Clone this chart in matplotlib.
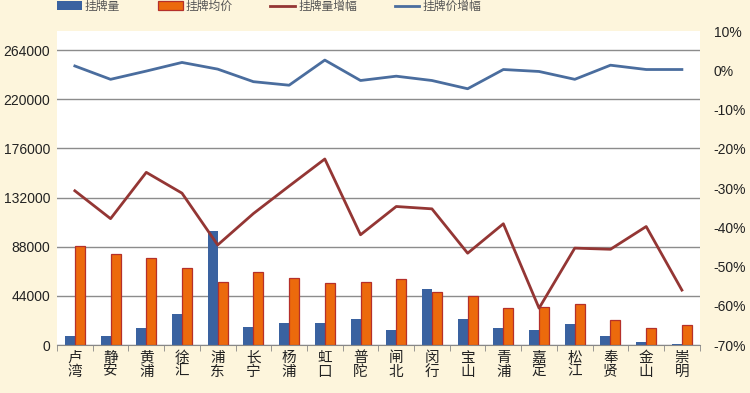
import numpy as np
import matplotlib
matplotlib.use('Agg')
import matplotlib.pyplot as plt
from matplotlib.ticker import FuncFormatter

plt.rcParams['font.family'] = ['Liberation Sans', 'Noto Sans CJK SC', 'DejaVu Sans']

districts = ['卢湾', '静安', '黄浦', '徐汇', '浦东', '长宁', '杨浦', '虹口', '普陀',
             '闸北', '闵行', '宝山', '青浦', '嘉定', '松江', '奉贤', '金山', '崇明']
listings = [7800, 7800, 14900, 27700, 102300, 16100, 19700, 19700, 23300,
            13700, 50400, 23300, 14900, 13400, 18500, 7800, 3000, 1200]
avg_price = [88900, 81700, 78100, 68600, 56700, 65000, 60300, 55500, 56700,
             59100, 47400, 43500, 33100, 34000, 36700, 22700, 15500, 17900]
listings_chg = [-30.7, -37.8, -26.0, -31.3, -44.5, -36.5, -29.5, -22.6, -41.9,
                -34.7, -35.3, -46.6, -39.1, -60.6, -45.3, -45.6, -39.8, -56.0]
price_chg = [1.1, -2.3, -0.2, 2.0, 0.3, -2.9, -3.8, 2.6, -2.6,
             -1.5, -2.6, -4.7, 0.2, -0.3, -2.3, 1.3, 0.2, 0.2]

bg = '#FDF5DC'
blue = '#3A62A0'
orange = '#EC6A0C'
orange_edge = '#B5302A'
red_line = '#943634'
blue_line = '#4A6D9E'

fig = plt.figure(figsize=(7.5, 3.93), dpi=100, facecolor=bg)
ax = fig.add_axes([0.076, 0.122, 0.857, 0.799])
ax.set_facecolor('white')

x = np.arange(len(districts))
w = 0.28
ax.bar(x - w / 2, listings, w, color=blue, label='挂牌量', zorder=2)
ax.bar(x + w / 2, avg_price, w, color=orange, edgecolor=orange_edge, linewidth=0.9,
       label='挂牌均价', zorder=2)

ax.set_xlim(-0.5, len(districts) - 0.5)
ax.set_ylim(0, 281000)
ax.set_yticks(np.arange(0, 264001, 44000))
ax.yaxis.grid(True, color='#8C8C8C', linewidth=1)
ax.set_axisbelow(True)
ax.tick_params(axis='y', length=0, labelsize=10, colors='#222222', pad=5)

ax.set_xticks(x)
ax.set_xticklabels(['\n'.join(d) for d in districts], fontsize=10.5, linespacing=1.0,
                   color='#222222')
ax.set_xticks(np.arange(-0.5, len(districts)), minor=True)
ax.tick_params(axis='x', which='major', length=0, pad=4)
ax.tick_params(axis='x', which='minor', length=4, color='#888888', direction='out')

for s in ['top', 'left', 'right']:
    ax.spines[s].set_visible(False)
ax.spines['bottom'].set_color('#888888')

ax2 = ax.twinx()
ax2.plot(x, listings_chg, color=red_line, linewidth=2, label='挂牌量增幅')
ax2.plot(x, price_chg, color=blue_line, linewidth=2, label='挂牌价增幅')
ax2.set_ylim(-70, 10)
ax2.set_yticks(np.arange(-70, 11, 10))
ax2.yaxis.set_major_formatter(FuncFormatter(lambda v, p: '%d%%' % v))
ax2.tick_params(axis='y', length=0, labelsize=10, colors='#222222', pad=10)
for s in ax2.spines.values():
    s.set_visible(False)

h1, l1 = ax.get_legend_handles_labels()
h2, l2 = ax2.get_legend_handles_labels()
fig.legend(h1 + h2, l1 + l2, ncol=4, loc='upper left', bbox_to_anchor=(0.062, 1.025),
           frameon=False, fontsize=8.5, handlelength=2.1, handleheight=0.75,
           columnspacing=3.2, handletextpad=0.25, labelcolor='#555555')

fig.savefig('out.png', dpi=100, facecolor=bg)
